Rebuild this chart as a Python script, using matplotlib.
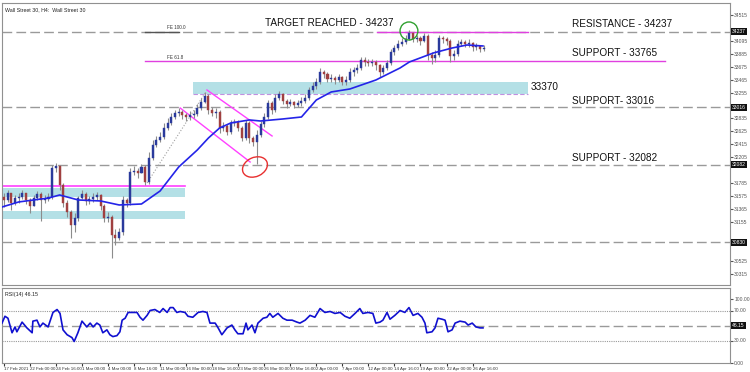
import numpy as np
import matplotlib.pyplot as plt
from matplotlib.patches import Rectangle, Ellipse
import matplotlib.transforms as mtransforms

plt.rcParams['font.family'] = ['Liberation Sans', 'DejaVu Sans']

# Wall Street 30, H4 candles (one entry per bar)
closes = [31512, 31626, 31463, 31544, 31561, 31626, 31512, 31415, 31544, 31609,
          31512, 31528, 31561, 32031, 32064, 31755, 31463, 31317, 31107, 31220,
          31544, 31609, 31496, 31528, 31561, 31593, 31415, 31220, 31236, 30944,
          30896, 30993, 31512, 31463, 31966, 31982, 31950, 32047, 31804, 32193,
          32404, 32485, 32534, 32680, 32761, 32858, 32923, 32939, 32891, 32858,
          32891, 32907, 33004, 33102, 33199, 32972, 32923, 32939, 32680, 32712,
          32615, 32761, 32777, 32680, 32518, 32761, 32518, 32453, 32566, 32745,
          32858, 33085, 32972, 33166, 33231, 33118, 33069, 33102, 33053, 33085,
          33118, 33166, 33296, 33361, 33426, 33588, 33556, 33475, 33491, 33458,
          33507, 33426, 33458, 33588, 33621, 33653, 33783, 33750, 33734, 33750,
          33702, 33588, 33653, 33734, 33913, 33977, 34042, 34075, 34123, 34221,
          34123, 34140, 34091, 34172, 33864, 33815, 33864, 34140, 34123, 34091,
          33848, 33880, 34042, 34075, 34042, 34059, 33994, 34010, 33961, 33977]
highs = [31626, 31674, 31561, 31593, 31626, 31674, 31609, 31544, 31593, 31658,
         31642, 31593, 31626, 32080, 32112, 32031, 31788, 31512, 31350, 31301,
         31577, 31674, 31642, 31577, 31626, 31642, 31609, 31447, 31317, 31269,
         31042, 31058, 31577, 31544, 32031, 32064, 32031, 32096, 32080, 32291,
         32485, 32550, 32615, 32761, 32842, 32923, 32972, 33004, 32972, 32923,
         32956, 32972, 33069, 33166, 33264, 33231, 33020, 33004, 32972, 32777,
         32745, 32810, 32826, 32810, 32712, 32810, 32793, 32550, 32647, 32793,
         32923, 33134, 33118, 33231, 33280, 33248, 33150, 33150, 33118, 33134,
         33183, 33231, 33345, 33426, 33491, 33653, 33621, 33588, 33556, 33523,
         33556, 33523, 33523, 33653, 33669, 33718, 33831, 33831, 33799, 33799,
         33783, 33718, 33702, 33783, 33961, 34026, 34107, 34140, 34188, 34269,
         34237, 34188, 34172, 34221, 34204, 33913, 33945, 34188, 34172, 34156,
         34123, 33945, 34107, 34123, 34107, 34123, 34075, 34059, 34026, 34026]
lows = [31398, 31480, 31350, 31431, 31463, 31528, 31447, 31301, 31431, 31512,
        31171, 31463, 31496, 31528, 31966, 31674, 31398, 31236, 30896, 30993,
        31171, 31528, 31431, 31447, 31480, 31512, 31350, 31155, 31155, 30571,
        30782, 30863, 30944, 31398, 31431, 31918, 31869, 31966, 31755, 31772,
        32161, 32372, 32453, 32501, 32647, 32729, 32826, 32875, 32826, 32793,
        32810, 32842, 32875, 32972, 33085, 32907, 32875, 32842, 32599, 32631,
        32566, 32583, 32712, 32631, 32469, 32485, 32437, 32388, 32096, 32534,
        32696, 32826, 32907, 32939, 33134, 33069, 33004, 33037, 33004, 33020,
        33037, 33085, 33134, 33264, 33312, 33393, 33491, 33426, 33426, 33393,
        33426, 33377, 33377, 33426, 33523, 33572, 33621, 33685, 33685, 33685,
        33621, 33507, 33556, 33621, 33702, 33864, 33945, 34010, 34042, 34107,
        34075, 34075, 34026, 34075, 33783, 33718, 33750, 33831, 34059, 34026,
        33750, 33783, 33848, 34010, 33994, 33994, 33929, 33945, 33913, 33929]
first_open = 31560

# moving average, read at selected bars
ma_bar = [-0.5, 4, 12, 15, 20, 26, 31, 37, 42, 47, 52, 55, 58, 61, 66, 69, 75, 80,
          84, 88, 93, 100, 106.5, 109, 115.5, 120.5, 124.5, 128.8]
ma_val = [31398, 31480, 31544, 31593, 31512, 31496, 31431, 31447, 31658, 32047,
          32323, 32518, 32680, 32761, 32810, 32793, 32826, 32858, 33134, 33264,
          33312, 33458, 33653, 33750, 33897, 33977, 34026, 34010]

# RSI(14)
rsi_t = [-0.5, 0.3, 1.1, 2.2, 3.0, 3.5, 4.9, 6.2, 7.6, 7.8, 8.9, 9.7, 10.5, 11.9,
         13.2, 14.3, 15.1, 15.9, 17.0, 18.3, 18.9, 19.9, 21.0, 22.3, 23.2, 24.0,
         25.0, 25.8, 26.6, 27.7, 28.5, 29.3, 30.4, 31.2, 31.8, 32.6, 33.4, 34.4,
         35.8, 36.6, 37.4, 38.5, 39.3, 40.6, 41.9, 42.8, 43.9, 44.7, 45.5, 46.5,
         47.4, 48.7, 49.5, 50.8, 52.2, 53.5, 54.6, 55.4, 56.8, 57.6, 58.6, 60.0,
         61.3, 62.1, 62.9, 64.3, 65.1, 65.6, 66.7, 67.5, 68.3, 69.7, 70.7, 71.5,
         72.3, 73.7, 75.0, 76.1, 77.5, 78.8, 79.6, 81.0, 82.3, 83.6, 85.0, 86.3,
         87.7, 89.0, 90.4, 91.7, 93.0, 94.4, 95.7, 96.5, 97.9, 99.2, 100.0, 101.1,
         101.9, 103.0, 103.8, 105.1, 106.5, 107.8, 108.9, 110.0, 111.3, 112.4,
         113.2, 113.7, 115.1, 115.9, 116.7, 117.8, 118.6, 119.4, 120.5, 121.3,
         122.6, 124.0, 124.8, 125.9, 126.9, 128.0, 128.8]
rsi_v = [53.2, 62.3, 59.7, 40.3, 48.1, 41.6, 54.5, 46.8, 40.3, 55.8, 57.1, 48.1,
         53.2, 48.1, 67.4, 71.3, 66.1, 44.2, 37.7, 33.9, 28.7, 40.3, 55.8, 48.1,
         53.2, 48.1, 53.2, 50.6, 40.3, 44.2, 37.7, 35.2, 36.5, 41.6, 57.1, 59.7,
         67.4, 67.4, 67.4, 61.0, 57.1, 63.5, 70.0, 71.3, 67.4, 72.6, 67.4, 73.9,
         73.9, 67.4, 68.7, 67.4, 62.3, 61.0, 67.4, 68.7, 67.4, 53.2, 53.2, 46.8,
         37.7, 46.8, 50.6, 44.2, 39.0, 39.0, 53.2, 44.2, 50.6, 40.3, 53.2, 59.7,
         61.0, 66.1, 61.0, 66.1, 59.7, 57.1, 57.1, 54.5, 53.2, 57.1, 63.5, 61.0,
         72.6, 67.4, 68.7, 66.1, 67.4, 62.3, 59.7, 66.1, 72.6, 66.1, 67.4, 66.1,
         53.2, 54.5, 57.1, 67.4, 58.4, 63.5, 70.0, 67.4, 73.9, 63.5, 66.1, 61.0,
         53.2, 40.3, 41.6, 46.8, 59.7, 58.4, 57.1, 41.6, 44.2, 53.2, 55.8, 54.5,
         50.6, 53.2, 48.1, 46.8, 46.8]
rsi_last = 46.15

tick_bars = list(range(0, 127, 7))
tick_labels = ['17 Feb 2021', '22 Feb 00:00', '24 Feb 16:00', '1 Mar 00:00',
               '4 Mar 00:00', '8 Mar 16:00', '11 Mar 00:00', '16 Mar 00:00',
               '18 Mar 16:00', '23 Mar 00:00', '26 Mar 00:00', '30 Mar 16:00',
               '2 Apr 00:00', '7 Apr 00:00', '12 Apr 00:00', '14 Apr 16:00',
               '19 Apr 00:00', '22 Apr 00:00', '26 Apr 16:00']

resistance = 34237
support1 = 33765
zone_mid = 33370
support2 = 33016
support3 = 32082
low_level = 30830

W, H = 750, 372
fig = plt.figure(figsize=(W / 100, H / 100), dpi=100)


def box(x0, y0, x1, y1):
    return [x0 / W, 1 - y1 / H, (x1 - x0) / W, (y1 - y0) / H]


ax = fig.add_axes(box(2, 3, 730, 285))
axr = fig.add_axes(box(2, 288, 730, 363), sharex=ax)

for a in (ax, axr):
    for s in a.spines.values():
        s.set_color('#909090')
        s.set_linewidth(0.8)
    a.yaxis.tick_right()
    a.tick_params(axis='y', labelsize=3.6, colors='#555555', length=2, pad=1)

ax.set_xlim(-0.5, 195.2)
ax.set_ylim(30133, 34707)

# zones and levels
cyan = '#b4e0e6'
ax.add_patch(Rectangle((50.8, 33231), 90.1, 195, color=cyan, lw=0, zorder=1))
ax.plot([50.8, 140.9], [33231, 33231], color='#c090e0', lw=0.8, ls=(0, (4, 2)), zorder=1)
ax.add_patch(Rectangle((-0.5, 31561), 49.2, 146, color=cyan, lw=0, zorder=1))
ax.add_patch(Rectangle((-0.5, 31203), 49.2, 130, color=cyan, lw=0, zorder=1))
ax.plot([-0.5, 48.7], [31739, 31739], color='#ff40ff', lw=1.2, zorder=2)

dash = (0, (7, 3))
for lvl in (resistance, support2, support3, low_level):
    ax.axhline(lvl, color='#9a9a9a', lw=1, ls=dash, zorder=1)
ax.plot([37.9, 47], [resistance, resistance], color='#555555', lw=1, zorder=2)
ax.plot([100.3, 140.9], [resistance, resistance], color='#e040e0', lw=1, zorder=2)
ax.plot([37.9, 177.7], [support1, support1], color='#e040e0', lw=1, zorder=2)

# channel + guide lines
ax.plot([54.6, 72.1], [33296, 32550], color='#ff40ff', lw=1, zorder=2)
ax.plot([47.4, 66.2], [33004, 32128], color='#ff40ff', lw=1, zorder=2)
ax.plot([38.5, 54.1], [31788, 33248], color='#a0a0a0', lw=0.8, ls=':', zorder=2)

# candles
opens = [first_open] + closes[:-1]
idx = np.arange(len(closes))
o = np.array(opens)
c = np.array(closes)
hi = np.maximum(np.array(highs), np.maximum(o, c))
lo = np.minimum(np.array(lows), np.minimum(o, c))
ax.vlines(idx, lo, hi, color='#8c8c8c', lw=0.8, zorder=3)
up = c >= o
body = np.maximum(np.abs(c - o), 12)
ax.bar(idx[up], body[up], bottom=np.minimum(o, c)[up], width=0.55,
       color='#2a3a9c', edgecolor='#2a3a9c', lw=0.3, zorder=4)
ax.bar(idx[~up], body[~up], bottom=np.minimum(o, c)[~up], width=0.55,
       color='#a04040', edgecolor='#a04040', lw=0.3, zorder=4)

ax.plot(ma_bar, ma_val, color='#2424e8', lw=1.2, zorder=5)

# tilted red ellipse drawn in pixel units around its data anchor
cx, cy = ax.transData.transform((67.5, 32047))
ax.add_patch(Ellipse((cx, cy), 26, 19, angle=25, fill=False, ec='#e83030',
                     lw=1, zorder=6, transform=mtransforms.IdentityTransform()))
ax.add_patch(Ellipse((108.9, 34253), 4.8, 292, fill=False,
                     ec='#30a030', lw=1, zorder=6))

# annotations
big = dict(fontsize=7.2, color='#111111', va='center', ha='left')
ax.text(70.2, 34383, 'TARGET REACHED - 34237', **big)
ax.text(152.7, 34367, 'RESISTANCE - 34237', **big)
ax.text(152.7, 33896, 'SUPPORT - 33765', **big)
ax.text(141.7, 33345, '33370', **big)
ax.text(152.7, 33118, 'SUPPORT- 33016', **big)
ax.text(152.7, 32193, 'SUPPORT - 32082', **big)
ax.text(43.9, 34302, 'FE 100.0', fontsize=3.3, color='#333333', va='center')
ax.text(43.9, 33815, 'FE 61.8', fontsize=3.3, color='#333333', va='center')
ax.text(0.004, 0.985, 'Wall Street 30, H4:  Wall Street 30', transform=ax.transAxes,
        fontsize=3.8, va='top', color='#222222')

# right price scale: skip ticks hidden behind the level boxes
levels = (resistance, support2, support3, low_level)
yt = [v for v in np.arange(34515, 30133, -210) if min(abs(v - l) for l in levels) > 120]
ax.set_yticks(yt)
ax.set_yticklabels([str(v) for v in yt])
tr = mtransforms.blended_transform_factory(ax.transAxes, ax.transData)
for lvl in levels:
    ax.text(1.003, lvl, str(lvl), transform=tr, fontsize=3.6, color='white',
            va='center', ha='left',
            bbox=dict(boxstyle='square,pad=0.2', fc='#111111', ec='none'))
ax.tick_params(axis='x', bottom=False, labelbottom=False)

# RSI panel
axr.set_ylim(0, 100)
axr.plot(rsi_t, rsi_v, color='#1010d0', lw=1.2, zorder=3)
axr.axhline(70, color='#9a9a9a', lw=0.8, ls=(0, (1, 1)))
axr.axhline(30, color='#9a9a9a', lw=0.8, ls=(0, (1, 1)))
axr.axhline(50, color='#9a9a9a', lw=1, ls=dash)
axr.set_yticks([0, 30, 70, 85])
axr.set_yticklabels(['0.00', '30.00', '70.00', '100.00'])
trr = mtransforms.blended_transform_factory(axr.transAxes, axr.transData)
axr.text(1.003, 50, f'{rsi_last:.2f}', transform=trr, fontsize=3.6, color='white',
         va='center', ha='left',
         bbox=dict(boxstyle='square,pad=0.2', fc='#111111', ec='none'))
axr.text(0.004, 0.95, f'RSI(14) {rsi_last:.2f}', transform=axr.transAxes,
         fontsize=3.8, va='top', color='#222222')
axr.set_xticks(tick_bars)
axr.set_xticklabels(tick_labels, ha='left')
axr.tick_params(axis='x', labelsize=3.2, colors='#333333', length=2, pad=1)

fig.savefig('out.png', dpi=100)
